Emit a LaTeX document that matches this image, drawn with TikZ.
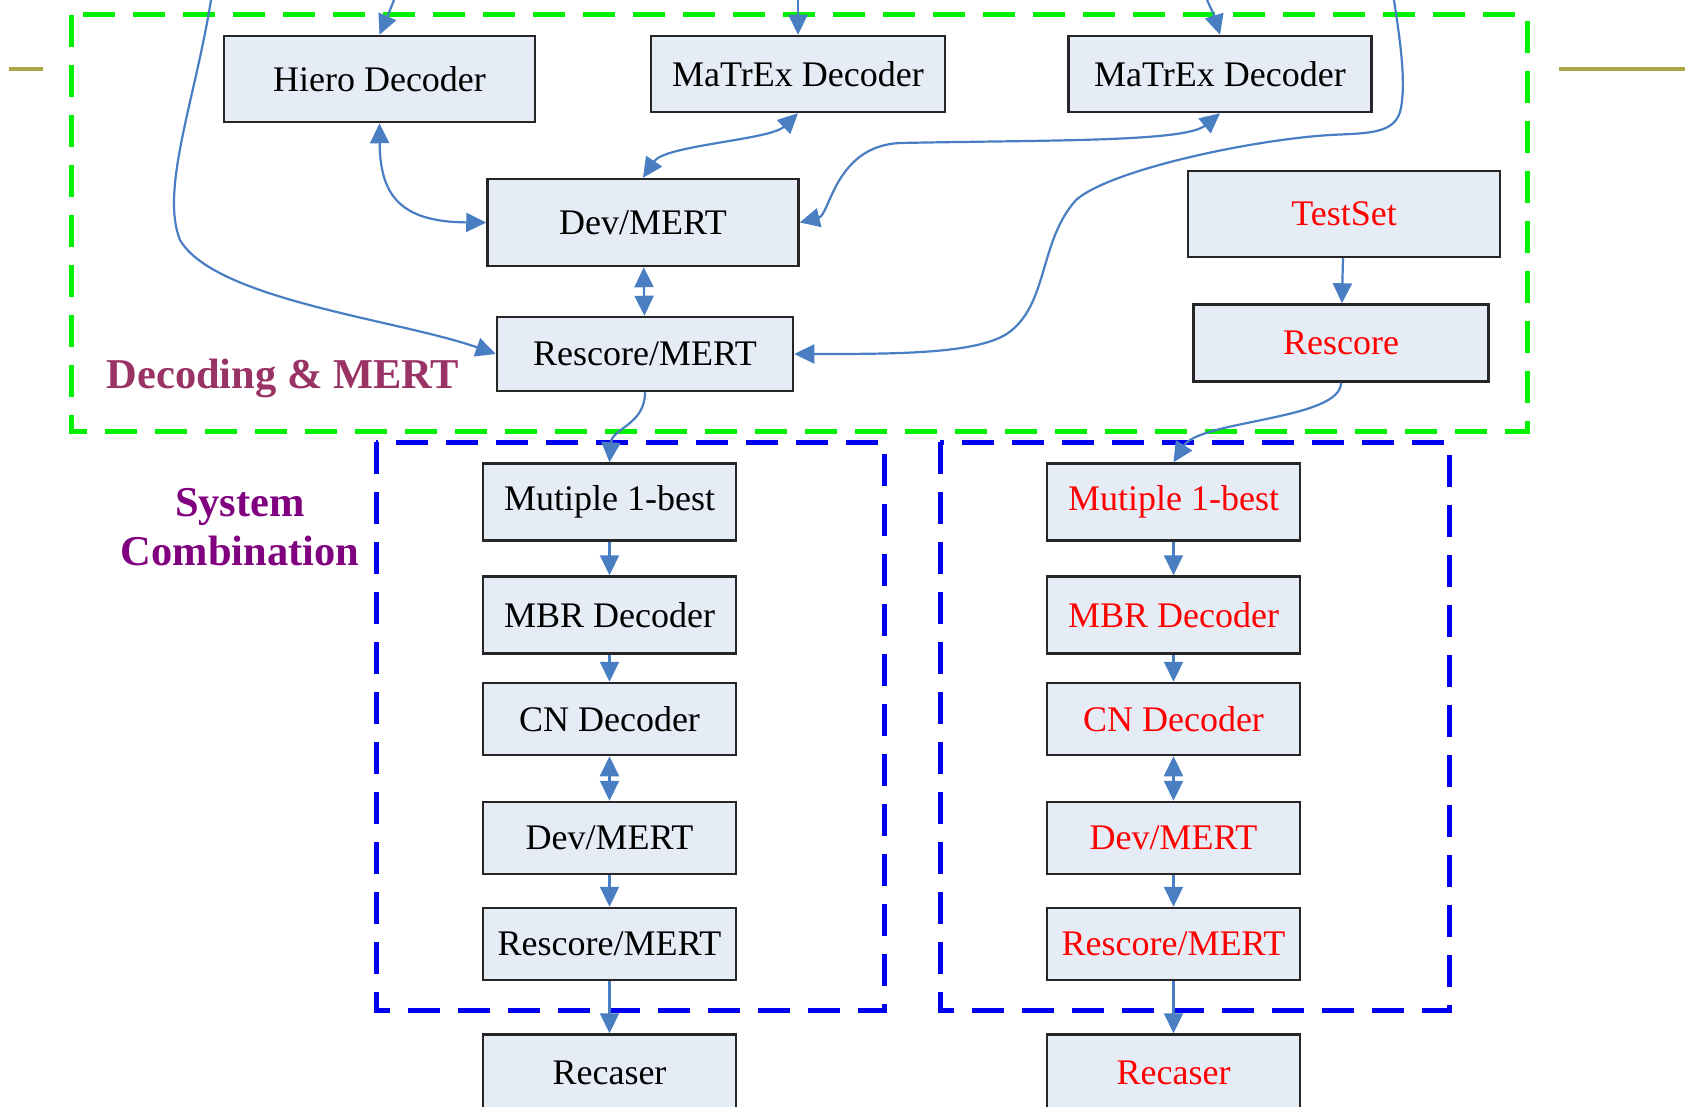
\documentclass[tikz,border=0pt]{standalone}
\usepackage{fontspec}
\setmainfont{Liberation Serif}
\usepackage{tikz}
\usetikzlibrary{arrows.meta}

\definecolor{boxfill}{HTML}{E6ECF6}
\definecolor{linkblue}{HTML}{4A7EC2}
\definecolor{framegreen}{HTML}{00F000}
\definecolor{frameblue}{HTML}{0000F0}
\definecolor{olivebar}{HTML}{A9A64A}
\definecolor{decodetxt}{HTML}{993366}
\definecolor{combtxt}{HTML}{800080}

\tikzset{
  procbox/.style={draw=black!85, fill=boxfill, line width=2.5pt, inner sep=0pt, font=\fontsize{36}{42}\selectfont},
  redbox/.style={procbox, text=red},
  colbox/.style={minimum width=253pt, minimum height=72pt},
  link/.style={draw=linkblue, line width=2.2pt, -{Triangle[length=20pt,width=19pt]}},
  duallink/.style={link, {Triangle[length=20pt,width=19pt]}-{Triangle[length=20pt,width=19pt]}},
  framebox/.style={line width=5pt, dash pattern=on 32pt off 18pt},
  grouplabel/.style={font=\bfseries\fontsize{42.5}{49}\selectfont, align=center}
}

\begin{document}
\begin{tikzpicture}[x=1pt, y=-1pt]

\useasboundingbox (0,0) rectangle (1694,1107);

% frames
\draw[framebox, framegreen] (71,15) rectangle (1527,431);
\draw[framebox, frameblue] (376,442) rectangle (884,1010);
\draw[framebox, frameblue] (940,442) rectangle (1449,1010);
\draw[line width=4pt, olivebar] (9,69) -- (43,69);
\draw[line width=4pt, olivebar] (1559,69) -- (1685,69);

% decoding and MERT
\node[procbox, minimum width=311pt, minimum height=86pt] (hiero) at (379.5,79) {Hiero Decoder};
\node[procbox, minimum width=294pt, minimum height=76pt] (matrex1) at (798,74) {MaTrEx Decoder};
\node[procbox, minimum width=303pt, minimum height=76pt] (matrex2) at (1220,74) {MaTrEx Decoder};
\node[procbox, minimum width=311pt, minimum height=87pt] (devtop) at (643,222.5) {Dev/MERT};
\node[procbox, minimum width=296pt, minimum height=74pt] (rsmtop) at (645,354) {Rescore/MERT};
\node[redbox, minimum width=312pt, minimum height=86pt] (testset) at (1344,214) {TestSet};
\node[redbox, minimum width=295pt, minimum height=77pt] (rescore) at (1341,343) {Rescore};

\node[grouplabel, text=decodetxt] (declabel) at (283,378) {Decoding \& MERT};
\node[grouplabel, text=combtxt] (combilabel) at (240,527) {System\\Combination};

% left column
\node[procbox, colbox, minimum height=77pt] (best1) at (609.5,502) {Mutiple 1-best};
\node[procbox, colbox, minimum height=77pt] (mbr1) at (609.5,615) {MBR Decoder};
\node[procbox, colbox] (cn1) at (609.5,719) {CN Decoder};
\node[procbox, colbox] (dev1) at (609.5,838) {Dev/MERT};
\node[procbox, colbox] (rsm1) at (609.5,944) {Rescore/MERT};
\node[procbox, colbox, minimum height=77pt] (rec1) at (609.5,1073) {Recaser};

% right column
\node[redbox, colbox, minimum height=77pt] (best2) at (1173.5,502) {Mutiple 1-best};
\node[redbox, colbox, minimum height=77pt] (mbr2) at (1173.5,615) {MBR Decoder};
\node[redbox, colbox] (cn2) at (1173.5,719) {CN Decoder};
\node[redbox, colbox] (dev2) at (1173.5,838) {Dev/MERT};
\node[redbox, colbox] (rsm2) at (1173.5,944) {Rescore/MERT};
\node[redbox, colbox, minimum height=77pt] (rec2) at (1173.5,1073) {Recaser};

% inputs from above
\coordinate (in0) at (211,0);
\coordinate (in1) at (394,0);
\coordinate (in2) at (798,0);
\coordinate (in3) at (1207,0);
\coordinate (in4) at (1394,0);

\draw[link] (in1) .. controls (388,15) .. (hiero.north);
\draw[link] (in2) -- (matrex1.north);
\draw[link] (in3) .. controls (1214,15) .. (matrex2.north);
\draw[link] (in0) .. controls (195,100) and (160,190) .. (180,240) .. controls (215,300) and (400,320) .. (rsmtop.west);
\draw[link] (in4) .. controls (1400,40) and (1406,80) .. (1401,108) .. controls (1396,134) and (1370,133) .. (1330,135) .. controls (1250,140) and (1110,170) .. (1076,200) .. controls (1040,240) and (1048,300) .. (1012,330) .. controls (985,354) and (900,354) .. (rsmtop.east);

\draw[duallink] (hiero.south) .. controls (380,195) and (400,222) .. (devtop.west);
\draw[duallink] (matrex1.south) .. controls (770,140) and (665,145) .. (devtop.north);
\draw[duallink] (matrex2.south) .. controls (1185,142) and (1050,140) .. (900,143) .. controls (835,146) and (830,215) .. (devtop.east);
\draw[duallink] (devtop) -- (rsmtop);
\draw[link] (testset) -- (rescore);

\draw[link] (rsmtop.south) .. controls (645,425) and (612,428) .. (best1.north);
\draw[link] (rescore.south) .. controls (1341,420) and (1200,420) .. (best2.north);

\draw[link] (best1) -- (mbr1);
\draw[link] (mbr1) -- (cn1);
\draw[duallink] (cn1) -- (dev1);
\draw[link] (dev1) -- (rsm1);
\draw[link] (rsm1) -- (rec1);

\draw[link] (best2) -- (mbr2);
\draw[link] (mbr2) -- (cn2);
\draw[duallink] (cn2) -- (dev2);
\draw[link] (dev2) -- (rsm2);
\draw[link] (rsm2) -- (rec2);

\end{tikzpicture}
\end{document}
